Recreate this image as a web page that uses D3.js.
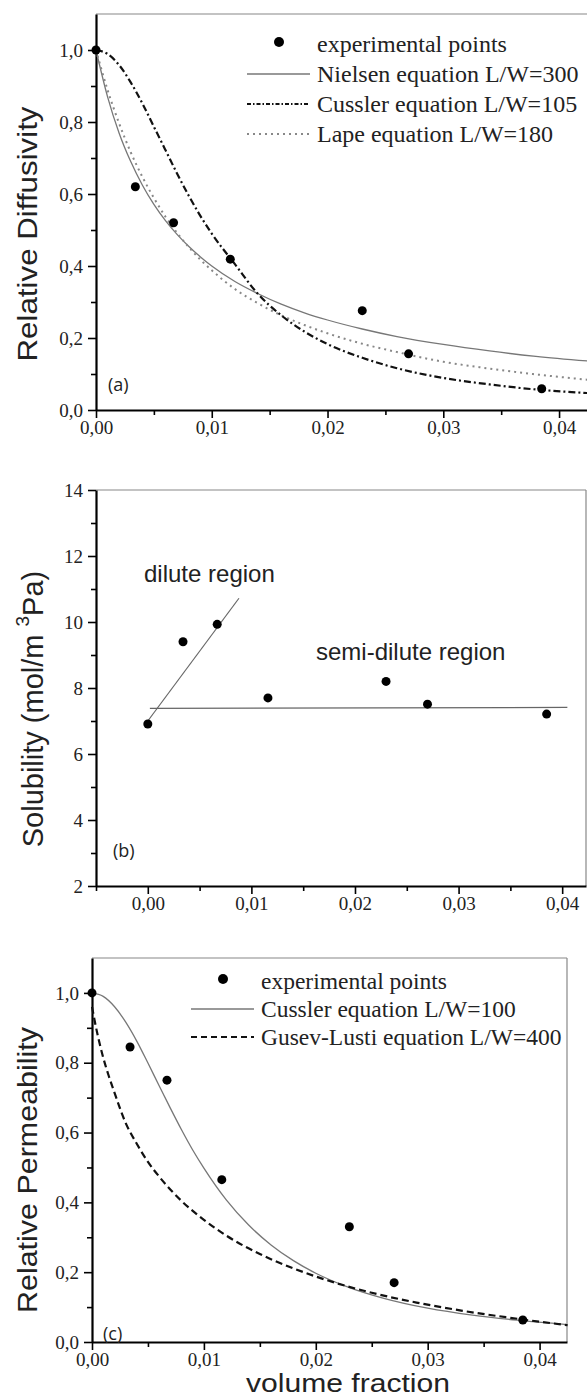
<!DOCTYPE html>
<html>
<head>
<meta charset="utf-8">
<script src="https://cdn.jsdelivr.net/npm/d3@7"></script>
<style>
  body { margin: 0; background: #fff; }
  svg { display: block; }
</style>
</head>
<body>
<script>
// experimental points (same filler fractions in all three panels)
var volFrac = [0, 0.0034, 0.0067, 0.0116, 0.0230, 0.0270, 0.0385];
var diffExp = [1.0, 0.62, 0.52, 0.419, 0.276, 0.156, 0.059];
var solExp = [6.91, 9.40, 9.93, 7.70, 8.20, 7.51, 7.21];
var permExp = [1.0, 0.845, 0.75, 0.465, 0.33, 0.17, 0.063];

// model curves
var curveX = [0, 0.001, 0.002, 0.003, 0.004, 0.005, 0.006, 0.007, 0.008, 0.009, 0.010,
              0.012, 0.014, 0.016, 0.018, 0.020, 0.023, 0.026, 0.030, 0.034, 0.038, 0.0425];
var nielsen = [1.000, 0.870, 0.769, 0.690, 0.625, 0.571, 0.526, 0.488, 0.455, 0.426, 0.400,
               0.357, 0.323, 0.294, 0.270, 0.250, 0.225, 0.204, 0.182, 0.164, 0.149, 0.136];
var cusslerA = [1.000, 0.989, 0.958, 0.910, 0.852, 0.787, 0.722, 0.657, 0.596, 0.540, 0.490,
                0.405, 0.322, 0.263, 0.218, 0.183, 0.145, 0.116, 0.089, 0.071, 0.057, 0.047];
var lape = [1.000, 0.889, 0.796, 0.716, 0.648, 0.589, 0.537, 0.492, 0.453, 0.418, 0.388,
            0.336, 0.296, 0.263, 0.236, 0.213, 0.184, 0.161, 0.134, 0.115, 0.099, 0.084];
var cusslerC = [1.000, 0.990, 0.961, 0.917, 0.862, 0.799, 0.734, 0.670, 0.608, 0.550, 0.498,
                0.407, 0.335, 0.278, 0.233, 0.197, 0.156, 0.126, 0.097, 0.077, 0.0625, 0.050];
var gusevX = [0, 0.0005, 0.001, 0.0015, 0.002, 0.003, 0.004, 0.005, 0.006, 0.008, 0.010,
              0.012, 0.015, 0.018, 0.021, 0.025, 0.029, 0.033, 0.037, 0.0425];
var gusev = [0.96, 0.88, 0.815, 0.762, 0.715, 0.628, 0.568, 0.516, 0.474, 0.404, 0.350,
             0.305, 0.252, 0.211, 0.177, 0.141, 0.113, 0.090, 0.071, 0.048];

// straight fits in panel (b)
var diluteX = [0, 0.0088], diluteY = [7.0, 10.72];
var semiX = [0.0002, 0.0405], semiY = [7.38, 7.41];

var relTicks = [0, 0.2, 0.4, 0.6, 0.8, 1.0];
var relMinor = [0.1, 0.3, 0.5, 0.7, 0.9];
var solTicks = [2, 4, 6, 8, 10, 12, 14];
var solMinor = [3, 5, 7, 9, 11, 13];
var fracTicks = [0, 0.01, 0.02, 0.03, 0.04];
var fracMinor = [-0.005, 0.005, 0.015, 0.025, 0.035];

var svg = d3.select("body").append("svg")
    .attr("width", 587)
    .attr("height", 1398);

var comma1 = function(d) { return d3.format(".1f")(d).replace(".", ","); };
var comma2 = function(d) { return d3.format(".2f")(d).replace(".", ","); };

function zip(xs, ys) {
    return xs.map(function(x, i) { return [x, ys[i]]; });
}

function frame(p) {
    var g = svg.append("g");
    var x = p.x, y = p.y;
    var x0 = x.range()[0], x1 = x.range()[1], y0 = y.range()[0], y1 = y.range()[1];

    // thin grey top / right border
    g.append("line").attr("x1", x0).attr("x2", x1).attr("y1", y1).attr("y2", y1)
        .attr("stroke", "#888").attr("stroke-width", 1.2);
    if (p.rightBorder) {
        g.append("line").attr("x1", x1).attr("x2", x1).attr("y1", y1).attr("y2", y0)
            .attr("stroke", "#888").attr("stroke-width", 1.2);
    }

    var minorX = fracMinor.filter(function(v) { return v >= x.domain()[0]; });
    g.append("g").attr("transform", "translate(0," + y0 + ")")
        .call(d3.axisBottom(x).tickValues(minorX).tickSize(5).tickFormat(""))
        .call(function(s) { s.select(".domain").remove(); });
    g.append("g").attr("transform", "translate(" + x0 + ",0)")
        .call(d3.axisLeft(y).tickValues(p.yMinor).tickSize(5).tickFormat(""))
        .call(function(s) { s.select(".domain").remove(); });

    g.append("g").attr("transform", "translate(0," + y0 + ")")
        .call(d3.axisBottom(x).tickValues(fracTicks).tickSize(8).tickSizeOuter(0)
            .tickPadding(3).tickFormat(comma2));
    g.append("g").attr("transform", "translate(" + x0 + ",0)")
        .call(d3.axisLeft(y).tickValues(p.yTicks).tickSize(8).tickSizeOuter(0)
            .tickPadding(5).tickFormat(p.yFormat));

    g.selectAll(".domain").attr("stroke", "#000").attr("stroke-width", 2.2);
    g.selectAll(".tick line").attr("stroke", "#000").attr("stroke-width", 1.6);
    g.selectAll(".tick text")
        .style("font-family", "Liberation Serif, serif")
        .style("font-size", "19px")
        .attr("fill", "#222");
    return g;
}

function curve(x, y, xs, ys, style) {
    var line = d3.line()
        .x(function(d) { return x(d[0]); })
        .y(function(d) { return y(d[1]); })
        .curve(d3.curveMonotoneX);
    svg.append("path")
        .datum(zip(xs, ys))
        .attr("d", line)
        .attr("fill", "none")
        .attr("stroke", style.color)
        .attr("stroke-width", style.width)
        .attr("stroke-dasharray", style.dash || null);
}

function dots(x, y, ys) {
    svg.append("g").selectAll("circle")
        .data(zip(volFrac, ys))
        .enter().append("circle")
        .attr("cx", function(d) { return x(d[0]); })
        .attr("cy", function(d) { return y(d[1]); })
        .attr("r", 4.5)
        .attr("fill", "#000");
}

function legend(rows, left, top, gap) {
    var g = svg.append("g");
    rows.forEach(function(r, i) {
        var cy = top + i * gap;
        if (r.dot) {
            g.append("circle").attr("cx", left + 32).attr("cy", cy - 2).attr("r", 5).attr("fill", "#000");
        } else {
            g.append("line").attr("x1", left).attr("x2", left + 63).attr("y1", cy).attr("y2", cy)
                .attr("stroke", r.color).attr("stroke-width", r.width)
                .attr("stroke-dasharray", r.dash || null);
        }
        g.append("text")
            .attr("x", left + 70).attr("y", cy + 8)
            .style("font-family", "Liberation Serif, serif")
            .style("font-size", r.size + "px")
            .attr("fill", "#222")
            .text(r.label);
    });
}

function axisTitle(text, cx, cy, len) {
    svg.append("text")
        .attr("transform", "translate(" + cx + "," + cy + ") rotate(-90)")
        .attr("text-anchor", "middle")
        .attr("textLength", len)
        .attr("lengthAdjust", "spacingAndGlyphs")
        .style("font-family", "Liberation Sans, Arial, sans-serif")
        .style("font-size", "28px")
        .attr("fill", "#222")
        .text(text);
}

function tag(text, x, y) {
    svg.append("text").attr("x", x).attr("y", y)
        .style("font-family", "Open Sans, sans-serif")
        .style("font-size", "18px")
        .attr("fill", "#222")
        .text(text);
}

var styleNielsen = { color: "#777", width: 1.3 };
var styleCussA = { color: "#111", width: 2.2, dash: "7,3,2,3" };
var styleLape = { color: "#888", width: 2, dash: "2,4" };
var styleCussC = { color: "#777", width: 1.3 };
var styleGusev = { color: "#111", width: 2.2, dash: "7,4" };

// ---- (a) relative diffusivity
var xa = d3.scaleLinear().domain([0, 0.0425]).range([96, 588]);
var ya = d3.scaleLinear().domain([0, 1.1]).range([410, 14]);
frame({ x: xa, y: ya, yTicks: relTicks, yMinor: relMinor, yFormat: comma1 });
curve(xa, ya, curveX, nielsen, styleNielsen);
curve(xa, ya, curveX, lape, styleLape);
curve(xa, ya, curveX, cusslerA, styleCussA);
dots(xa, ya, diffExp);
legend([
    { dot: true, label: "experimental points", size: 24 },
    { label: "Nielsen equation L/W=300", color: styleNielsen.color, width: 1.3, size: 24 },
    { label: "Cussler equation L/W=105", color: styleCussA.color, width: 2, dash: "4,2,1.5,2", size: 24 },
    { label: "Lape equation L/W=180", color: styleLape.color, width: 2, dash: "2,4", size: 24 }
], 247, 44, 30);
axisTitle("Relative Diffusivity", 37, 234, 255);
tag("(a)", 108, 391);

// ---- (b) solubility
var xb = d3.scaleLinear().domain([-0.005, 0.0423]).range([96, 586]);
var yb = d3.scaleLinear().domain([2, 14]).range([886, 490]);
frame({ x: xb, y: yb, yTicks: solTicks, yMinor: solMinor, yFormat: d3.format("d"), rightBorder: true });
curve(xb, yb, diluteX, diluteY, { color: "#666", width: 1.2 });
curve(xb, yb, semiX, semiY, { color: "#666", width: 1.2 });
dots(xb, yb, solExp);

var tb = svg.append("text")
    .attr("transform", "translate(43,709) rotate(-90)")
    .attr("text-anchor", "middle")
    .style("font-family", "Liberation Sans, Arial, sans-serif")
    .style("font-size", "29px")
    .attr("fill", "#222");
tb.append("tspan").text("Solubility (mol/m ");
tb.append("tspan").attr("dy", -14).style("font-size", "19px").text("3");
tb.append("tspan").attr("dy", 14).text("Pa)");

svg.append("text").attr("x", 144).attr("y", 582)
    .style("font-family", "Liberation Sans, Arial, sans-serif").style("font-size", "24px")
    .attr("fill", "#222").text("dilute region");
svg.append("text").attr("x", 316).attr("y", 660)
    .style("font-family", "Liberation Sans, Arial, sans-serif").style("font-size", "24px")
    .attr("fill", "#222").text("semi-dilute region");
tag("(b)", 113, 857);

// ---- (c) relative permeability
var xc = d3.scaleLinear().domain([0, 0.04245]).range([92, 567]);
var yc = d3.scaleLinear().domain([0, 1.1]).range([1342, 958]);
frame({ x: xc, y: yc, yTicks: relTicks, yMinor: relMinor, yFormat: comma1, rightBorder: true });
curve(xc, yc, curveX, cusslerC, styleCussC);
curve(xc, yc, gusevX, gusev, styleGusev);
dots(xc, yc, permExp);
legend([
    { dot: true, label: "experimental points", size: 23.5 },
    { label: "Cussler equation L/W=100", color: styleCussC.color, width: 1.3, size: 23.5 },
    { label: "Gusev-Lusti equation L/W=400", color: styleGusev.color, width: 2, dash: "6,4", size: 23.5 }
], 191, 981, 28);
axisTitle("Relative Permeability", 37, 1170, 286);
tag("(c)", 103, 1340);

svg.append("text")
    .attr("x", 348).attr("y", 1392)
    .attr("text-anchor", "middle")
    .attr("textLength", 204)
    .attr("lengthAdjust", "spacingAndGlyphs")
    .style("font-family", "Liberation Sans, Arial, sans-serif")
    .style("font-size", "25px")
    .attr("fill", "#222")
    .text("volume fraction");
</script>
</body>
</html>
